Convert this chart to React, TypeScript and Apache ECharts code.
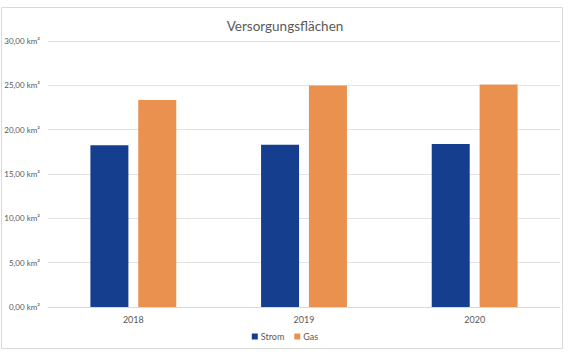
import React, { useEffect, useRef } from "react";
import * as echarts from "echarts";

const categories = ["2018", "2019", "2020"];
const stromValues = [18.25, 18.3, 18.38];
const gasValues = [23.35, 24.97, 25.1];
const seriesNames = ["Strom", "Gas"];
const titleText = "Versorgungsflächen";

export default function App() {
  const ref = useRef<HTMLDivElement>(null);
  useEffect(() => {
    if (!ref.current) return;
    const chart = echarts.init(ref.current, undefined, { renderer: "svg" });
    const font = "Lato, 'Open Sans', sans-serif";
    chart.setOption({
      animation: false,
      backgroundColor: "#ffffff",
      textStyle: { fontFamily: font },
      title: {
        text: titleText,
        left: "center",
        top: 14,
        textStyle: { fontSize: 13.5, fontWeight: "normal", color: "#595959", fontFamily: font },
      },
      graphic: [
        {
          type: "rect",
          shape: { x: 1.5, y: 7.5, width: 561, height: 341 },
          style: { fill: "none", stroke: "#d9d9d9", lineWidth: 1 },
          silent: true,
        },
      ],
      legend: {
        data: seriesNames,
        bottom: 11,
        left: "center",
        itemWidth: 6,
        itemHeight: 6,
        itemGap: 10,
        icon: "rect",
        textStyle: { fontSize: 9, color: "#595959", fontFamily: font, padding: [0, 0, 0, -2] },
      },
      grid: { left: 48, right: 10, top: 41, bottom: 50, containLabel: false },
      xAxis: {
        type: "category",
        data: categories,
        axisLine: { lineStyle: { color: "#d9d9d9" } },
        axisTick: { show: false },
        axisLabel: { fontSize: 9, color: "#595959", margin: 8, fontFamily: font },
      },
      yAxis: {
        type: "value",
        min: 0,
        max: 30,
        interval: 5,
        axisLine: { show: false },
        axisTick: { show: false },
        splitLine: { lineStyle: { color: "#e3e3e3" } },
        axisLabel: {
          fontSize: 8,
          color: "#595959",
          margin: 8,
          fontFamily: font,
          formatter: (v: number) => v.toFixed(2).replace(".", ",") + " km²",
        },
      },
      series: [
        {
          name: seriesNames[0],
          type: "bar",
          data: stromValues,
          barWidth: 38,
          barGap: "26%",
          itemStyle: { color: "#153f8e" },
        },
        {
          name: seriesNames[1],
          type: "bar",
          data: gasValues,
          barWidth: 38,
          barGap: "26%",
          itemStyle: { color: "#eb9150" },
        },
      ],
    });
    return () => chart.dispose();
  }, []);
  return (
    <div
      ref={ref}
      style={{ position: "fixed", left: 0, top: 0, width: 570, height: 357 }}
    />
  );
}
